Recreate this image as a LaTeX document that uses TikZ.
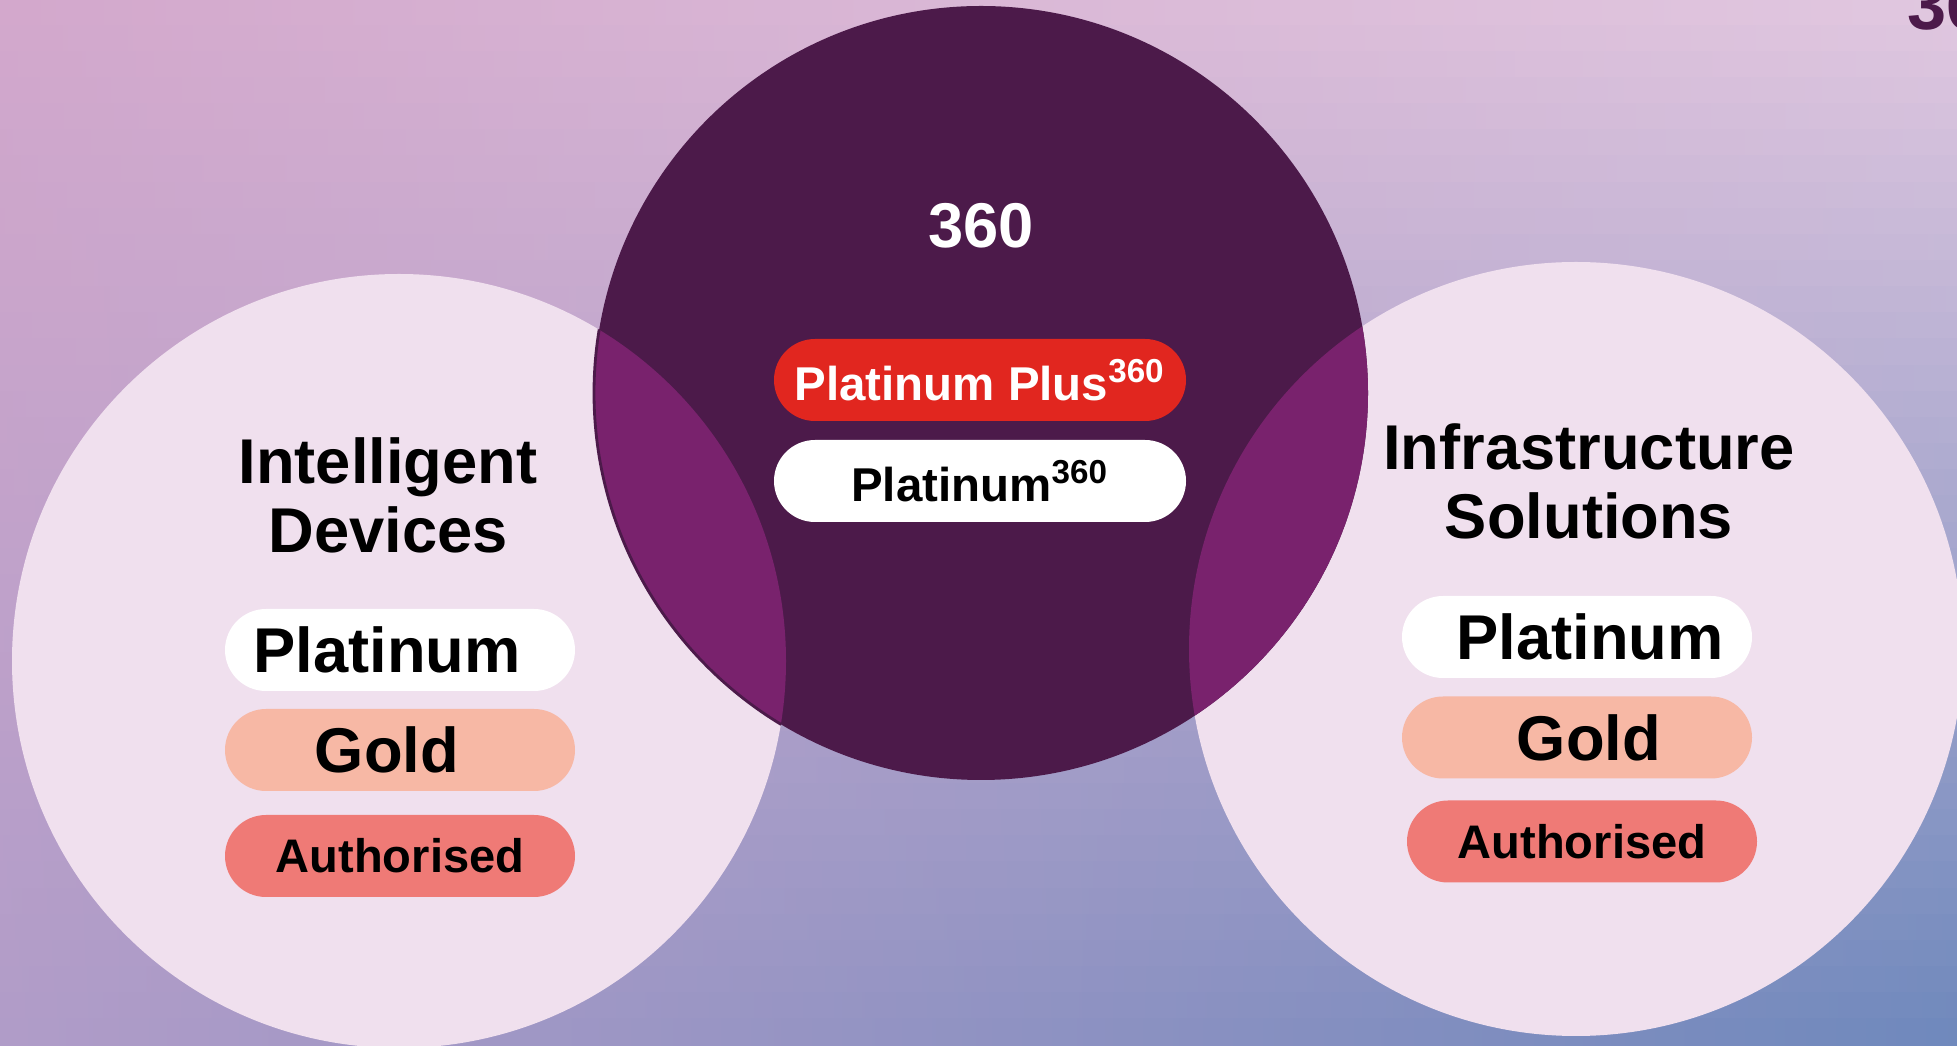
\documentclass[tikz,border=0pt]{standalone}
\usepackage{fontspec}
\setmainfont{Liberation Sans}
\usepackage{tikz}

\definecolor{bgtl}{HTML}{D3A8CC}
\definecolor{bgtr}{HTML}{E2C8E0}
\definecolor{bgbl}{HTML}{B09CC8}
\definecolor{bgbr}{HTML}{6E88BC}
\definecolor{deeppurple}{HTML}{4C1A4A}
\definecolor{lenspurple}{HTML}{79226D}
\definecolor{sidepink}{HTML}{F0E0EE}
\definecolor{plusred}{HTML}{E1261F}
\definecolor{goldpeach}{HTML}{F7B8A5}
\definecolor{authred}{HTML}{EF7A76}

\begin{document}
\begin{tikzpicture}[
	pill/.style={rounded corners=0.41cm, minimum width=3.5cm, minimum height=0.82cm, inner sep=0pt,
		font=\fontsize{18}{20}\selectfont\bfseries},
	smallpill/.style={pill, minimum width=4.12cm, font=\fontsize{13.5}{15}\selectfont\bfseries},
	heading/.style={align=center, inner sep=0pt, font=\fontsize{18}{19.6}\selectfont\bfseries}
]
	\useasboundingbox (0,0) rectangle (19.57,-10.46);
	\clip (0,0) rectangle (19.57,-10.46);

	% background
	\foreach \i in {0,...,39} {
		\pgfmathsetmacro{\p}{100*(1-(\i+0.5)/40)}
		\fill[left color=bgtl!\p!bgbl, right color=bgtr!\p!bgbr]
			(0,-\i*0.2615+0.01) rectangle (19.57,-\i*0.2615-0.2715);
	}

	% circles
	\fill[sidepink] (3.99,-6.61) circle (3.87);
	\fill[sidepink] (15.76,-6.49) circle (3.87);
	\fill[deeppurple] (9.81,-3.93) circle (3.87);
	\begin{scope}
		\clip (9.81,-3.93) circle (3.87);
		\fill[lenspurple] (3.99,-6.61) circle (3.87);
		\fill[lenspurple] (15.76,-6.49) circle (3.87);
	\end{scope}
	\begin{scope}
		\clip (3.99,-6.61) circle (3.87);
		\draw[deeppurple, line width=0.8pt] (9.81,-3.93) circle (3.87);
	\end{scope}

	\node[anchor=base west, inner sep=0pt, text=deeppurple, font=\fontsize{20}{22}\selectfont\bfseries]
		(corner) at (19.07,-0.30) {360};

	% 360
	\node[heading, anchor=base, text=white] (title) at (9.81,-2.48) {360};
	\node[smallpill, fill=plusred, text=white] (plusplat) at (9.80,-3.80) {Platinum Plus\textsuperscript{360}};
	\node[smallpill, fill=white] (plat) at (9.80,-4.81) {Platinum\textsuperscript{360}};

	% Intelligent Devices
	\node[heading] (idhead) at (3.88,-4.95) {Intelligent\\Devices};
	\node[pill, fill=white] (idplat) at (4.00,-6.50) {Platinum\kern0.26cm};
	\node[pill, fill=goldpeach] (idgold) at (4.00,-7.50) {Gold\kern0.26cm};
	\node[pill, fill=authred, font=\fontsize{13.4}{15}\selectfont\bfseries] (idauth) at (4.00,-8.56) {Authorised};

	% Infrastructure Solutions
	\node[heading] (ishead) at (15.89,-4.81) {Infrastructure\\Solutions};
	\node[pill, fill=white] (isplat) at (15.77,-6.37) {\kern0.26cm Platinum};
	\node[pill, fill=goldpeach] (isgold) at (15.77,-7.375) {\kern0.24cm Gold};
	\node[pill, fill=authred, font=\fontsize{13.4}{15}\selectfont\bfseries] (isauth) at (15.82,-8.415) {Authorised};
\end{tikzpicture}
\end{document}
